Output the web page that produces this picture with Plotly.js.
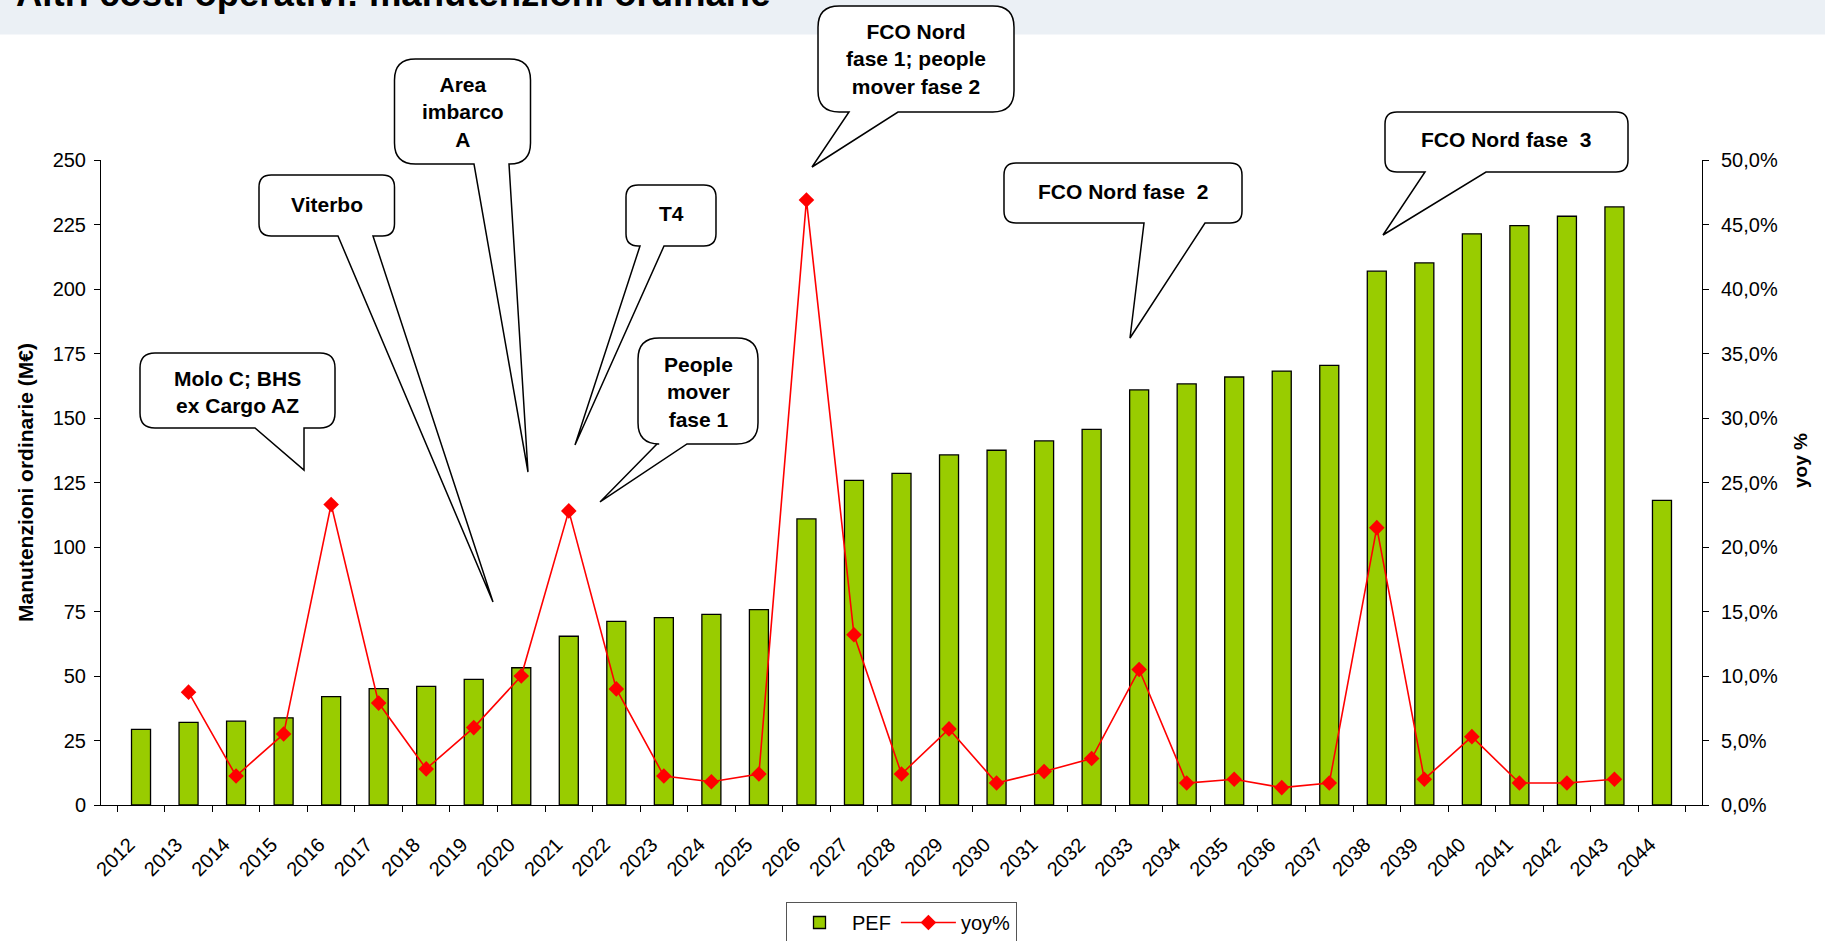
<!DOCTYPE html>
<html>
<head>
<meta charset="utf-8">
<script src="https://cdn.plot.ly/plotly-3.0.1.min.js"></script>
<style>html,body{margin:0;padding:0;background:#fff;}#chart{width:1825px;height:941px;}</style>
</head>
<body>
<div id="chart"></div>
<script>
// ---- data ----
const years = ['2012','2013','2014','2015','2016','2017','2018','2019','2020','2021','2022',
  '2023','2024','2025','2026','2027','2028','2029','2030','2031','2032','2033','2034',
  '2035','2036','2037','2038','2039','2040','2041','2042','2043','2044'];
const pef = [29.3, 32.0, 32.5, 33.8, 42.0, 45.1, 46.0, 48.7, 53.2, 65.4, 71.2,
  72.6, 73.9, 75.7, 110.9, 125.8, 128.5, 135.7, 137.5, 141.1, 145.6, 160.9, 163.2,
  165.9, 168.2, 170.4, 206.9, 210.1, 221.4, 224.6, 228.2, 231.8, 118.1];
const yoyYears = ['2013','2014','2015','2016','2017','2018','2019','2020','2021','2022',
  '2023','2024','2025','2026','2027','2028','2029','2030','2031','2032','2033','2034',
  '2035','2036','2037','2038','2039','2040','2041','2042','2043'];
const yoy = [8.75, 2.25, 5.5, 23.3, 7.9, 2.8, 6.0, 10.0, 22.8, 9.0,
  2.25, 1.8, 2.4, 46.9, 13.2, 2.4, 5.9, 1.7, 2.6, 3.6, 10.5, 1.7,
  2.0, 1.35, 1.7, 21.5, 2.0, 5.3, 1.7, 1.7, 2.0];
const seriesNames = ['PEF', 'yoy%'];
const chartTitle = 'Altri costi operativi: manutenzioni ordinarie';
const yTitle = 'Manutenzioni ordinarie (M€)';
const y2Title = 'yoy %';
const callouts = [
  {text: 'Molo C; BHS<br>ex Cargo AZ', box: [140,353,335,428], bl: 255, br: 304, tip: [304,470], c: [237,392]},
  {text: 'Viterbo', box: [259,175,394.5,236], bl: 338, br: 373, tip: [493,602], c: [327,204]},
  {text: 'Area<br>imbarco<br>A', box: [394.5,59,530.5,164], bl: 474, br: 509, tip: [528,472], c: [462.5,112]},
  {text: 'T4', box: [626,185,716,246], bl: 640, br: 664, tip: [575,445], c: [671,213]},
  {text: 'People<br>mover<br>fase 1', box: [638,338,758,444], bl: 657, br: 687, tip: [600,502], c: [698,392]},
  {text: 'FCO Nord<br>fase 1; people<br>mover fase 2', box: [818,6,1014,112], bl: 849, br: 898, tip: [812,167], c: [916,59]},
  {text: 'FCO Nord fase\u00a0 2', box: [1004,163,1242,223], bl: 1144, br: 1205, tip: [1130,338], c: [1123,191]},
  {text: 'FCO Nord fase\u00a0 3', box: [1385,112,1628,172], bl: 1425, br: 1486, tip: [1383,235], c: [1506,140]}
];

// ---- geometry ----
const W = 1825, H = 941;
const L = 101, R = 1702, T = 160, B = 805;
const px2x = p => (p - L) / (R - L);
const py2y = p => (B - p) / (B - T);
const FONT = 'Liberation Sans, Arial, sans-serif';

function bubblePath(cl) {
  const [x0, y0, x1, y1] = cl.box;
  const r = Math.min(x1 - x0, y1 - y0) * 0.2;
  const P = (x, y) => px2x(x).toFixed(5) + ',' + py2y(y).toFixed(5);
  return 'M' + P(x0 + r, y0) + ' L' + P(x1 - r, y0) + ' Q' + P(x1, y0) + ' ' + P(x1, y0 + r) +
    ' L' + P(x1, y1 - r) + ' Q' + P(x1, y1) + ' ' + P(x1 - r, y1) +
    ' L' + P(cl.br, y1) + ' L' + P(cl.tip[0], cl.tip[1]) + ' L' + P(cl.bl, y1) +
    ' L' + P(x0 + r, y1) + ' Q' + P(x0, y1) + ' ' + P(x0, y1 - r) +
    ' L' + P(x0, y0 + r) + ' Q' + P(x0, y0) + ' ' + P(x0 + r, y0) + ' Z';
}

const shapes = [
  {type: 'rect', xref: 'paper', yref: 'paper', x0: px2x(0), x1: px2x(W), y0: py2y(0), y1: py2y(34.5),
   fillcolor: '#EBF0F5', line: {width: 0}, layer: 'below'}
];
const annotations = [
  {text: chartTitle, xref: 'paper', yref: 'paper', x: px2x(14), y: py2y(16), xanchor: 'left', yanchor: 'bottom',
   showarrow: false, font: {family: FONT, size: 36.5, weight: 'bold', color: '#000'}},
  {text: y2Title, xref: 'paper', yref: 'paper', x: px2x(1800), y: py2y(461), xanchor: 'center', yanchor: 'middle',
   textangle: -90, showarrow: false, font: {family: FONT, size: 19, weight: 'bold', color: '#000'}}
];
callouts.forEach(cl => {
  shapes.push({type: 'path', xref: 'paper', yref: 'paper', path: bubblePath(cl),
    fillcolor: '#ffffff', line: {color: '#000', width: 1.5}, layer: 'above'});
  annotations.push({text: cl.text, xref: 'paper', yref: 'paper', x: px2x(cl.c[0]), y: py2y(cl.c[1]),
    xanchor: 'center', yanchor: 'middle', showarrow: false,
    font: {family: FONT, size: 21, weight: 'bold', color: '#000'}});
});

const traces = [
  {type: 'bar', name: seriesNames[0], x: years, y: pef, xaxis: 'x', yaxis: 'y',
   marker: {color: '#99CC00', line: {color: '#000', width: 1.3}}},
  {type: 'scatter', mode: 'lines+markers', name: seriesNames[1], x: yoyYears, y: yoy, xaxis: 'x', yaxis: 'y2',
   line: {color: '#FF0000', width: 1.6}, marker: {symbol: 'diamond', size: 12, color: '#FF0000'}}
];

const tickFont = {family: FONT, size: 20, color: '#000'};
const layout = {
  width: W, height: H,
  margin: {l: L, r: W - R, t: T, b: H - B, autoexpand: false},
  paper_bgcolor: '#fff', plot_bgcolor: 'rgba(0,0,0,0)',
  separators: ',.',
  font: {family: FONT, color: '#000'},
  bargap: 0.6,
  showlegend: true,
  legend: {orientation: 'h', x: 0.5, xanchor: 'center', y: py2y(902), yanchor: 'top', itemwidth: 55,
    bordercolor: '#555', borderwidth: 1, bgcolor: '#fff', font: {family: FONT, size: 20, color: '#000'},
    traceorder: 'normal'},
  xaxis: {type: 'category', tickson: 'boundaries', ticks: 'outside', ticklen: 6, tickcolor: '#000',
    showline: true, linecolor: '#000', linewidth: 1, showgrid: false, zeroline: false,
    tickangle: -45, tickfont: {family: FONT, size: 20, color: '#000'}, ticklabelstandoff: 19, ticklabelshift: -12},
  yaxis: {range: [0, 250], dtick: 25, tick0: 0, ticks: 'outside', ticklen: 6, tickcolor: '#000',
    showline: true, linecolor: '#000', linewidth: 1, showgrid: false, zeroline: false,
    tickfont: tickFont, ticklabelstandoff: 4,
    title: {text: yTitle, standoff: 13, font: {family: FONT, size: 21, weight: 'bold', color: '#000'}}},
  yaxis2: {range: [0, 50], dtick: 5, tick0: 0, overlaying: 'y', side: 'right', anchor: 'x',
    ticks: 'outside', ticklen: 6, tickcolor: '#000', tickformat: '.1f', ticksuffix: '%',
    showline: true, linecolor: '#000', linewidth: 1, showgrid: false, zeroline: false,
    tickfont: tickFont, ticklabelstandoff: 8},
  xaxis2: {type: 'linear', range: [-0.5, years.length - 0.5], tick0: -0.5, dtick: 1, overlaying: 'x', anchor: 'y',
    ticks: 'inside', ticklen: 6, tickcolor: '#000', showticklabels: false, showline: false, showgrid: false, zeroline: false},
  yaxis3: {range: [0, 250], dtick: 25, tick0: 0, overlaying: 'y', side: 'left', anchor: 'x',
    ticks: 'inside', ticklen: 6, tickcolor: '#000', showticklabels: false, showline: false, showgrid: false, zeroline: false},
  yaxis4: {range: [0, 50], dtick: 5, tick0: 0, overlaying: 'y', side: 'right', anchor: 'x',
    ticks: 'inside', ticklen: 6, tickcolor: '#000', showticklabels: false, showline: false, showgrid: false, zeroline: false},
  shapes: shapes,
  annotations: annotations
};

Plotly.newPlot('chart', traces, layout, {staticPlot: true, displayModeBar: false});
</script>
</body>
</html>
